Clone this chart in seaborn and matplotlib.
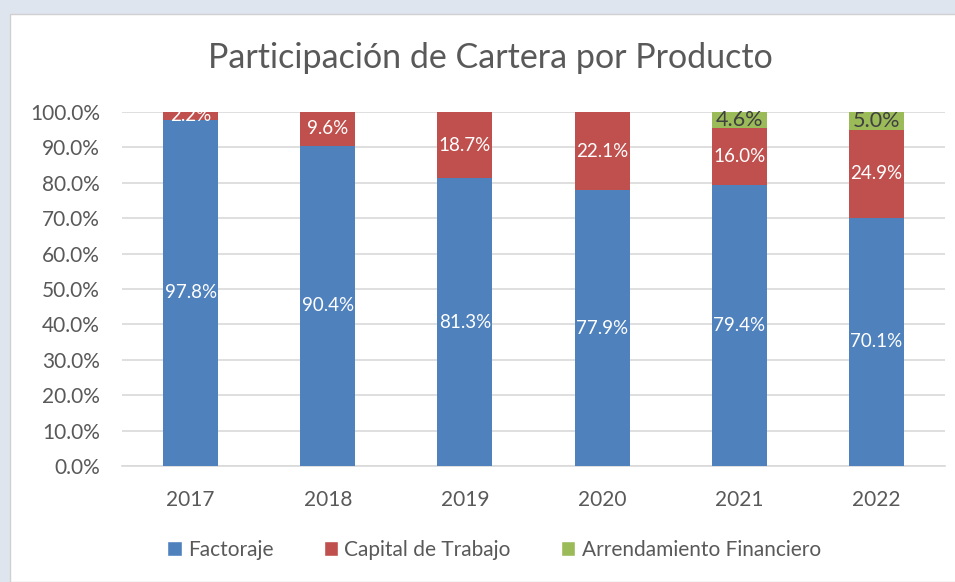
import matplotlib
matplotlib.use("Agg")
import matplotlib.pyplot as plt
from matplotlib.patches import Rectangle, Patch
from matplotlib.ticker import PercentFormatter
import seaborn as sns
import numpy as np

sns.set_style("white")
plt.rcParams['font.family'] = ['Lato', 'DejaVu Sans']

years = ["2017", "2018", "2019", "2020", "2021", "2022"]
factoraje = [97.8, 90.4, 81.3, 77.9, 79.4, 70.1]
capital = [2.2, 9.6, 18.7, 22.1, 16.0, 24.9]
arrendamiento = [0.0, 0.0, 0.0, 0.0, 4.6, 5.0]
series_names = ["Factoraje", "Capital de Trabajo", "Arrendamiento Financiero"]
colors = ["#4f81bd", "#c0504d", "#9bbb59"]

f = np.array(factoraje)
c = np.array(capital)
a = np.array(arrendamiento)

fig = plt.figure(figsize=(9.55, 5.82), dpi=100, facecolor="#dfe5ee")
# white chart box
fig.patches.append(Rectangle((10 / 955, 0), 1, 1 - 14 / 582, transform=fig.transFigure,
                             facecolor="white", edgecolor="#d0d0d0", lw=1, zorder=-10))

ax = fig.add_axes([122 / 955, 1 - 466 / 582, (945 - 122) / 955, (466 - 112) / 582])
ax.set_facecolor("none")

# stacked bars: draw cumulative totals from top to bottom
sns.barplot(x=years, y=f + c + a, color=colors[2], width=0.4, saturation=1, linewidth=0, ax=ax, zorder=2)
sns.barplot(x=years, y=f + c, color=colors[1], width=0.4, saturation=1, linewidth=0, ax=ax, zorder=3)
sns.barplot(x=years, y=f, color=colors[0], width=0.4, saturation=1, linewidth=0, ax=ax, zorder=4)

for i in range(len(years)):
    ax.text(i, f[i] / 2, f"{f[i]:.1f}%", ha="center", va="center", color="white", fontsize=13.5, zorder=5)
    ax.text(i, f[i] + c[i] / 2, f"{c[i]:.1f}%", ha="center", va="center", color="white", fontsize=13.5, zorder=5)
    if a[i] > 0:
        ax.text(i, f[i] + c[i] + a[i] / 2, f"{a[i]:.1f}%", ha="center", va="center", color="#404040",
                fontsize=15.5, zorder=5)

ax.set_ylim(0, 100)
ax.set_xlim(-0.5, 5.5)
ax.set_yticks(np.arange(0, 101, 10))
ax.yaxis.set_major_formatter(PercentFormatter(decimals=1))
ax.yaxis.grid(True, color="#d9d9d9", lw=1.2, zorder=0)
ax.set_axisbelow(True)
for s in ["top", "right", "left"]:
    ax.spines[s].set_visible(False)
ax.spines["bottom"].set_color("#d9d9d9")
ax.spines["bottom"].set_linewidth(1.2)
ax.tick_params(axis="both", length=0, labelsize=15, labelcolor="#595959")
ax.tick_params(axis="x", pad=17)
ax.tick_params(axis="y", pad=16)
ax.set_xlabel("")
ax.set_ylabel("")

fig.text(490 / 955, 1 - 58 / 582, "Participación de Cartera por Producto", ha="center", va="center",
         fontsize=24.5, color="#595959")

handles = [Patch(facecolor=col) for col in colors]
fig.legend(handles, series_names, loc="center", bbox_to_anchor=(494 / 955, 1 - 550 / 582), ncol=3,
           frameon=False, fontsize=15, labelcolor="#595959", handlelength=0.7, handleheight=0.7,
           handletextpad=0.3, columnspacing=2.4)

fig.savefig("out.png", dpi=100, facecolor=fig.get_facecolor())
